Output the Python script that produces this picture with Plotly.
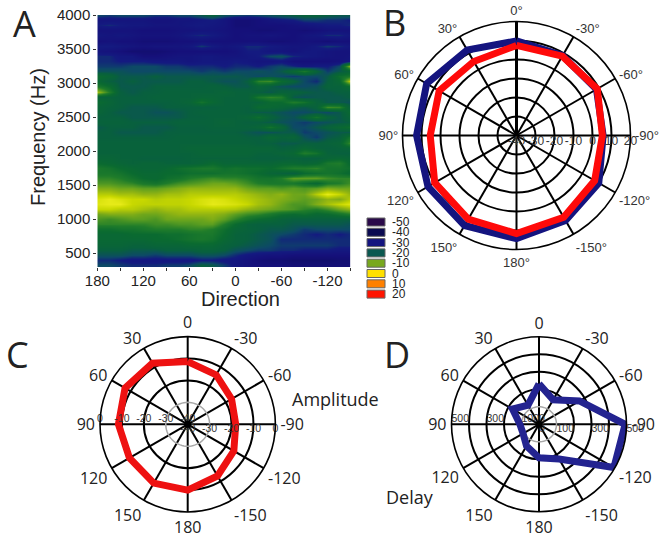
import plotly.graph_objects as go

W, H = 663, 540
directions = [180,165,150,135,120,105,90,75,60,45,30,15,0,-15,-30,-45,-60,-75,-90,-105,-120,-135,-150]
frequencies = [4000,3925,3850,3775,3700,3625,3550,3475,3400,3325,3250,3175,3100,3025,2950,2875,2800,2725,2650,2575,2500,2425,2350,2275,2200,2125,2050,1975,1900,1825,1750,1675,1600,1525,1450,1375,1300,1225,1150,1075,1000,925,850,775,700,625,550,475,400,325]
spectrum = [
[-24,-25,-24,-24,-24,-25,-25,-24,-24,-22,-20,-23,-24,-25,-24,-23,-22,-21,-20,-20,-21,-22,-22],
[-29,-29,-29,-29,-29,-30,-30,-29,-29,-28,-27,-29,-32,-32,-31,-29,-28,-27,-25,-25,-26,-26,-27],
[-27,-26,-27,-28,-28,-29,-29,-29,-28,-27,-28,-29,-32,-32,-31,-31,-31,-30,-29,-28,-27,-27,-26],
[-30,-30,-30,-30,-31,-31,-31,-30,-30,-29,-29,-30,-31,-31,-32,-32,-31,-31,-32,-31,-30,-30,-30],
[-28,-29,-28,-29,-30,-30,-30,-29,-27,-26,-27,-29,-31,-30,-30,-29,-30,-31,-29,-28,-26,-26,-28],
[-31,-30,-31,-31,-32,-32,-32,-31,-31,-30,-31,-31,-31,-31,-31,-32,-32,-31,-30,-31,-32,-31,-31],
[-27,-27,-28,-29,-30,-29,-29,-29,-28,-25,-27,-29,-28,-26,-26,-27,-28,-29,-29,-27,-25,-26,-28],
[-29,-30,-31,-33,-33,-33,-32,-31,-31,-31,-31,-31,-30,-27,-27,-29,-29,-30,-28,-28,-29,-30,-30],
[-26,-26,-28,-28,-31,-31,-30,-29,-29,-28,-28,-29,-29,-28,-27,-24,-23,-26,-27,-28,-29,-30,-29],
[-26,-26,-27,-27,-27,-28,-28,-28,-29,-28,-28,-28,-27,-28,-29,-29,-28,-31,-31,-31,-31,-30,-28],
[-25,-25,-25,-24,-24,-24,-25,-25,-26,-26,-26,-27,-26,-26,-27,-25,-24,-26,-28,-27,-27,-24,-5],
[-23,-23,-23,-24,-24,-24,-24,-24,-24,-25,-24,-25,-24,-24,-23,-24,-22,-18,-14,-20,-25,-22,-19],
[-17,-19,-22,-22,-22,-21,-22,-22,-22,-22,-22,-22,-22,-23,-24,-23,-24,-25,-24,-24,-22,-16,-14],
[-18,-21,-22,-21,-22,-22,-22,-22,-21,-21,-22,-23,-23,-21,-12,-11,-17,-20,-24,-26,-21,-18,-3],
[-14,-17,-22,-22,-22,-21,-21,-21,-21,-21,-20,-21,-22,-22,-19,-21,-23,-24,-24,-23,-20,-20,-16],
[-5,-13,-21,-22,-21,-21,-20,-20,-20,-20,-20,-19,-20,-20,-21,-22,-20,-20,-21,-22,-22,-21,-21],
[-20,-20,-21,-21,-21,-20,-20,-20,-20,-19,-19,-20,-20,-20,-14,-12,-13,-22,-23,-22,-22,-22,-21],
[-17,-19,-21,-21,-21,-21,-21,-20,-19,-15,-18,-20,-20,-20,-20,-17,-17,-13,-15,-20,-22,-22,-23],
[-19,-20,-21,-22,-22,-22,-21,-21,-21,-21,-21,-20,-20,-21,-17,-18,-19,-21,-22,-20,-11,-12,-21],
[-19,-21,-22,-22,-22,-23,-23,-22,-21,-20,-20,-20,-20,-21,-22,-22,-23,-24,-24,-23,-24,-22,-17],
[-21,-21,-21,-22,-22,-22,-22,-22,-21,-21,-20,-20,-20,-19,-16,-20,-22,-23,-20,-15,-20,-22,-19],
[-20,-20,-20,-21,-21,-21,-21,-20,-20,-20,-20,-19,-20,-21,-21,-22,-23,-24,-25,-24,-23,-22,-21],
[-22,-21,-21,-21,-22,-22,-22,-21,-21,-21,-20,-20,-20,-20,-19,-15,-19,-24,-24,-22,-20,-18,-16],
[-21,-21,-22,-22,-22,-22,-21,-21,-21,-21,-21,-21,-21,-22,-23,-23,-22,-22,-25,-24,-23,-22,-22],
[-21,-21,-21,-21,-21,-21,-21,-20,-20,-20,-20,-20,-20,-21,-21,-18,-20,-19,-23,-25,-22,-21,-15],
[-20,-20,-20,-20,-20,-20,-20,-20,-20,-20,-20,-20,-20,-20,-21,-21,-22,-22,-21,-21,-20,-19,-11],
[-20,-20,-20,-20,-20,-20,-20,-20,-19,-19,-19,-19,-19,-19,-19,-19,-21,-20,-18,-20,-21,-20,-19],
[-20,-20,-20,-20,-20,-20,-20,-20,-20,-19,-19,-19,-19,-19,-20,-20,-19,-18,-13,-15,-20,-21,-21],
[-19,-19,-20,-20,-21,-21,-21,-21,-20,-20,-20,-20,-20,-20,-21,-21,-21,-20,-21,-21,-19,-18,-19],
[-17,-18,-19,-20,-19,-19,-20,-20,-20,-19,-17,-19,-19,-19,-19,-19,-18,-18,-19,-18,-14,-13,-18],
[-14,-15,-17,-18,-19,-19,-18,-16,-15,-14,-14,-16,-15,-16,-16,-17,-15,-13,-13,-12,-15,-15,-16],
[-14,-14,-15,-17,-18,-18,-17,-17,-16,-16,-16,-15,-15,-16,-17,-19,-20,-21,-17,-16,-15,-16,-18],
[-12,-12,-13,-15,-17,-18,-16,-15,-13,-12,-11,-12,-12,-13,-15,-15,-13,-9,-9,-9,-11,-12,-12],
[-10,-10,-11,-12,-14,-15,-13,-11,-10,-9,-8,-8,-9,-11,-13,-14,-14,-14,-16,-18,-14,-13,-11],
[-7,-7,-8,-8,-9,-9,-8,-7,-6,-6,-6,-6,-6,-8,-9,-9,-10,-9,-10,-9,-7,-8,-8],
[-4,-4,-5,-5,-6,-6,-5,-5,-4,-4,-4,-4,-4,-5,-6,-7,-6,-8,-8,-4,-1,-3,-6],
[-2,-1,-2,-3,-3,-4,-3.5,-3.5,-3,-2,-1.5,-2,-3,-4,-5,-6,-7,-8,-9,-8,-6,-7,-4],
[-1.5,-1,-1,-3,-3.5,-3.5,-3.5,-3.5,-3,-2,-1,-1.5,-2,-3,-5,-6,-8,-10,-10,-7,-5,-3,-1.5],
[-3,-3,-4,-4,-5,-6,-5,-5,-4,-4,-4,-4,-4.5,-6,-7,-8,-9,-10,-12,-13,-11,-8,-6],
[-8,-7,-7,-7,-8,-8,-7,-6,-6,-6,-6,-7,-9,-11,-12,-14,-16,-17,-16,-18,-17,-15,-13],
[-10,-11,-10,-9,-9,-10,-8,-8,-8,-8,-7,-9,-12,-15,-17,-18,-20,-21,-21,-21,-21,-21,-21],
[-12,-12,-12,-12,-12,-11,-11,-10,-10,-9,-9,-13,-17,-20,-21,-21,-21,-22,-22,-22,-22,-22,-23],
[-16,-16,-15,-15,-14,-13,-13,-13,-12,-12,-13,-16,-19,-20,-21,-22,-22,-23,-25,-24,-24,-24,-24],
[-18,-18,-18,-17,-17,-17,-16,-16,-15,-14,-14,-17,-20,-21,-22,-23,-24,-25,-26,-27,-26,-27,-26],
[-18,-18,-18,-18,-18,-17,-17,-16,-15,-14,-15,-18,-20,-21,-22,-23,-26,-26,-26,-26,-26,-26,-26],
[-19,-19,-19,-20,-20,-19,-19,-19,-18,-18,-18,-20,-21,-22,-23,-24,-25,-25,-25,-25,-25,-26,-26],
[-21,-21,-21,-22,-22,-22,-21,-21,-21,-20,-20,-21,-23,-24,-25,-25,-26,-26,-27,-27,-27,-28,-28],
[-23,-23,-23,-24,-24,-25,-24,-24,-24,-23,-23,-24,-26,-28,-29,-30,-30,-31,-31,-31,-31,-31,-31],
[-26,-26,-27,-28,-28,-28,-28,-28,-28,-27,-27,-28,-28,-30,-32,-33,-33,-34,-34,-34,-34,-33,-33],
[-24,-24,-25,-26,-26,-26,-25,-25,-24,-21,-22,-25,-28,-30,-31,-31,-31,-32,-32,-32,-32,-32,-32],
]
freq_ticks = [500,1000,1500,2000,2500,3000,3500,4000]
dir_major = [180,120,60,0,-60,-120]
dir_all = [180,150,120,90,60,30,0,-30,-60,-90,-120,-150]

spoke_vals = [0,30,60,90,120,150,180,210,240,270,300,330]
spoke_text = [0,30,60,90,120,150,180,-150,-120,-90,-60,-30]

angles = [0,-30,-60,-90,-120,-150,180,150,120,90,60,30,0]
b_red = [7.4,8.2,9.1,5.2,7.5,9.7,11.6,10.8,9.7,5.4,7,5,7.4]
b_blue = [9.8,8.5,8.6,5.6,10,11.6,14.3,14.7,13.8,12.6,14.6,11.9,9.8]
c_red = [-11.4,-14,-16.9,-18.1,-15.7,-12.8,-10,-9,-9.3,-8.4,-7,-7.8,-11.4]
d_blue = [231,162,267,492,494,229,191,143,105,109,175,126,231]

b_ticks = [-40,-30,-20,-10,0,10,20]
c_ticks = [-40,-30,-20,-10,0]
d_ticks = [0,100,300,500]
legend_levels = [-50,-40,-30,-20,-10,0,10,20]
legend_colors = ["#2a0a4a","#0a0a50","#14147f","#0a5850","#78a81e","#ffe000","#ff8000","#ff1400"]

stops = [(-50,"#2a0a4a"),(-40,"#0a0a50"),(-31,"#15107a"),(-27,"#141a80"),(-24,"#0d4a66"),(-21,"#08603e"),
         (-17,"#0a6a30"),(-13,"#1f7c2a"),(-9,"#5c9e20"),(-6,"#92b512"),(-3,"#c8d800"),(-1,"#e6ea18"),
         (0,"#ffe000"),(10,"#ff8000"),(20,"#ff1400")]
cscale = [[(v+50)/70, c] for v, c in stops]

SANS = "Liberation Sans"
HUM = "Open Sans"
fig = go.Figure()
fig.add_trace(go.Heatmap(x=directions, y=frequencies, z=spectrum, colorscale=cscale, zmin=-50, zmax=20,
                         zsmooth="best", showscale=False))

def dom(cx, cy, r):
    return dict(x=[(cx-r)/W, (cx+r)/W], y=[1-(cy+r)/H, 1-(cy-r)/H])

def polar(cx, cy, r, rng, rticks, ticktext, fs, color, ticklen):
    return dict(domain=dom(cx, cy, r), bgcolor="rgba(0,0,0,0)",
        radialaxis=dict(range=rng, tickvals=rticks, showticklabels=False, ticks="", showline=False,
                        gridcolor="black", gridwidth=1.5, angle=90),
        angularaxis=dict(rotation=90, direction="counterclockwise", tickmode="array", tickvals=spoke_vals,
                         ticktext=ticktext, gridcolor="black", gridwidth=1.5, linecolor="black", linewidth=1.6,
                         ticks="outside", ticklen=ticklen, tickcolor="rgba(0,0,0,0)",
                         tickfont=dict(family=fs[0], size=fs[1], color=color)))

def line(sp, r, theta, color, width):
    fig.add_trace(go.Scatterpolar(subplot=sp, r=r, theta=theta, mode="lines", line=dict(color=color, width=width), showlegend=False))

def labels(sp, vals, theta, pos, size, color):
    fig.add_trace(go.Scatterpolar(subplot=sp, r=vals, theta=[theta]*len(vals), mode="text", text=[str(v) for v in vals],
                                  textposition=pos, textfont=dict(family=SANS, size=size, color=color), showlegend=False))

ring = list(range(0, 361, 5))
# B
line("polar", [-40, 20], [0, 0], "black", 3)
line("polar", b_blue, angles, "#14147f", 7)
line("polar", b_red, angles, "#ff0a0a", 7)
labels("polar", b_ticks, -90, "bottom center", 12, "#333333")
# C
line("polar2", [-30]*len(ring), ring, "#a8a8a8", 1.5)
line("polar2", c_red, angles, "#ee1111", 7)
labels("polar2", c_ticks, -90, "bottom center", 10.5, "#333333")
labels("polar2", c_ticks, 90, "top center", 10.5, "#333333")
fig.add_trace(go.Scatterpolar(subplot="polar2", r=[-40], theta=[0], mode="markers", marker=dict(color="black", size=7), showlegend=False))
# D
line("polar3", [100]*len(ring), ring, "#a8a8a8", 1.5)
line("polar3", d_blue, angles, "#232390", 7)
labels("polar3", d_ticks, -90, "bottom right", 10.5, "#333333")
labels("polar3", d_ticks, 90, "top right", 10.5, "#333333")
fig.add_trace(go.Scatterpolar(subplot="polar3", r=[0], theta=[0], mode="markers", marker=dict(color="black", size=7), showlegend=False))

ann = []
def text(x, y, s, size, family=HUM, color="#222222", angle=0, xanchor="center"):
    ann.append(dict(x=x/W, y=1-y/H, xref="paper", yref="paper", text=s, showarrow=False, xanchor=xanchor, yanchor="middle",
                    textangle=angle, font=dict(family=family, size=size, color=color)))
text(24, 23, "A", 36); text(394, 22, "B", 36); text(17, 354, "C", 36); text(397, 354, "D", 36)
text(335, 399, "Amplitude", 18); text(410, 497, "Delay", 18)
text(240, 299, "Direction", 20, SANS)
text(38, 137, "Frequency (Hz)", 20, SANS, angle=-90)

shapes = []
for i, (lv, col) in enumerate(zip(legend_levels, legend_colors)):
    yc = 222 + i*10.3
    shapes.append(dict(type="rect", xref="paper", yref="paper", x0=367/W, x1=385/W, y0=1-(yc+4)/H, y1=1-(yc-4)/H,
                       fillcolor=col, line=dict(color="#666666", width=1)))
    text(390, yc, str(lv), 12, SANS, xanchor="left")

fig.update_layout(template="none", width=W, height=H, margin=dict(l=0, r=0, t=0, b=0, pad=0), paper_bgcolor="white", plot_bgcolor="white",
    showlegend=False, annotations=ann, shapes=shapes,
    xaxis=dict(domain=[97.3/W, 350.5/W], range=[180, -150], tickmode="array", tickvals=dir_all, automargin=False,
               ticktext=[str(d) if d in dir_major else "" for d in dir_all], ticks="outside", ticklen=3, tickcolor="#333",
               ticklabelstandoff=-3,
               tickfont=dict(family=SANS, size=15, color="#222"), showgrid=False, zeroline=False, showline=False),
    yaxis=dict(domain=[1-267/H, 1-15/H], range=[295, 4000], tickmode="array", tickvals=freq_ticks, ticks="outside", ticklen=3, automargin=False,
               tickcolor="#333", tickfont=dict(family=SANS, size=15, color="#222"), showgrid=False, zeroline=False, showline=False),
    polar=polar(516.5, 135.5, 114, [-40, 20], [-30,-20,-10,0,10], [f"{d}°" for d in spoke_text], (SANS, 13), "#333333", 1),
    polar2=polar(187.7, 424.3, 87.7, [-40, 0], [-20,-10], [str(d) for d in spoke_text], (HUM, 16), "#222222", 1),
    polar3=polar(539, 424.3, 87.5, [0, 500], [200,300,400], [str(d) for d in spoke_text], (HUM, 16), "#222222", 1),
)
fig.write_html("out.html", config={"displayModeBar": False},
               post_script="document.body.style.margin='0';document.body.style.overflow='hidden';")
